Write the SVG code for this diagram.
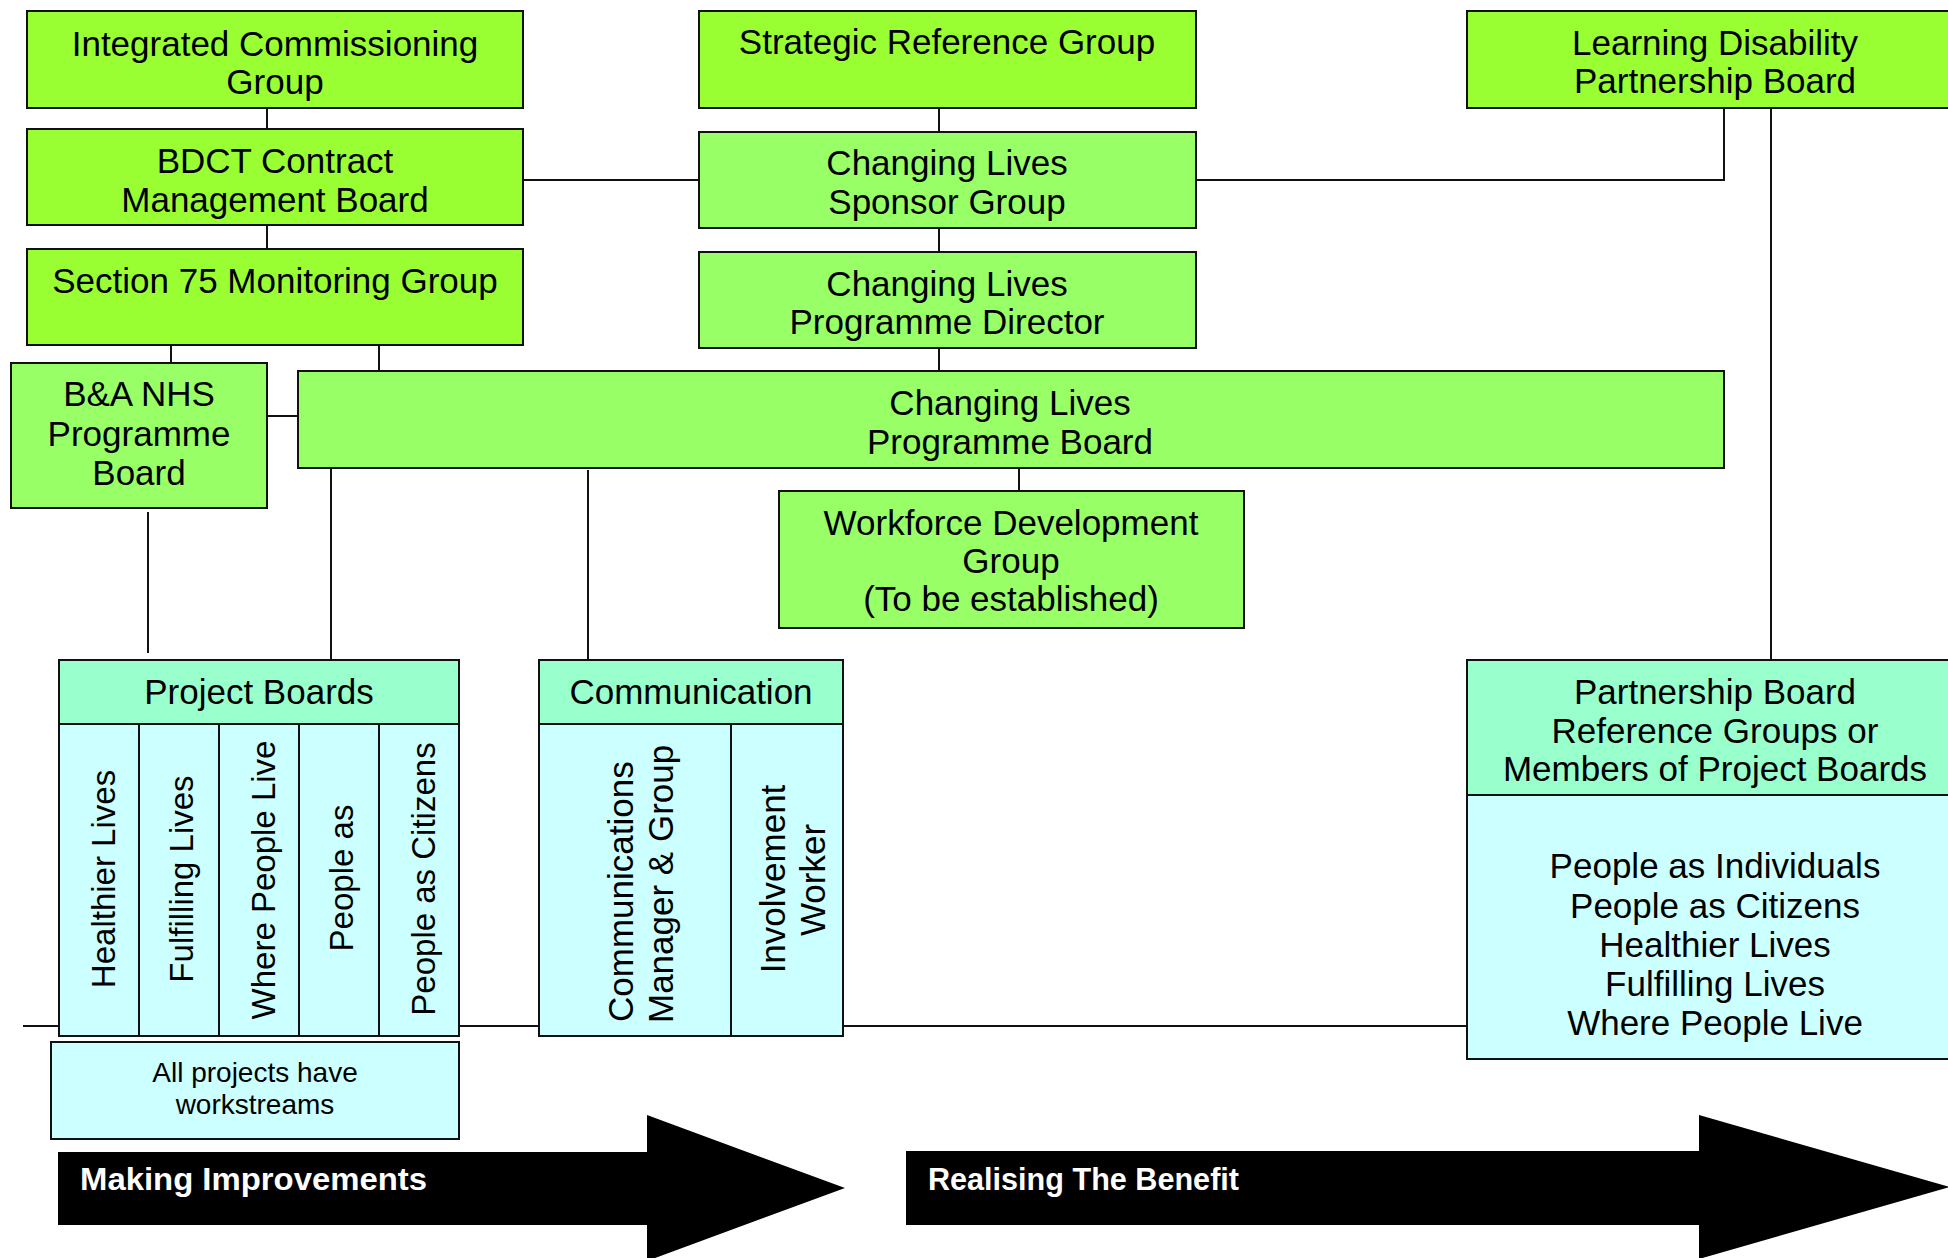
<svg xmlns="http://www.w3.org/2000/svg" width="1948" height="1258" viewBox="0 0 1948 1258">
<style>
  .box { stroke: #111; stroke-width: 2; }
  .g1 { fill: #99FF33; }
  .g2 { fill: #99FF66; }
  .hd { fill: #99FFCC; }
  .bd { fill: #CCFFFF; }
  .ln { stroke: #111; stroke-width: 2; fill: none; }
  text { font-family: "Liberation Sans", Arial, sans-serif; fill: #000; }
  .t { font-size: 35px; text-anchor: middle; }
  .r { font-size: 33px; text-anchor: middle; }
  .rc { font-size: 35px; }
  .s { font-size: 28px; text-anchor: middle; }
  .arrow { fill: #000; }
  .at { font-size: 32px; font-weight: bold; fill: #fff; }
</style>
<rect width="1948" height="1258" fill="#fff"/>
<g id="connectors">
  <line class="ln" x1="267" y1="108" x2="267" y2="129"/>
  <line class="ln" x1="267" y1="225" x2="267" y2="249"/>
  <line class="ln" x1="171" y1="345" x2="171" y2="363"/>
  <line class="ln" x1="379" y1="345" x2="379" y2="371"/>
  <line class="ln" x1="267" y1="416" x2="298" y2="416"/>
  <line class="ln" x1="523" y1="180" x2="699" y2="180"/>
  <line class="ln" x1="939" y1="108" x2="939" y2="132"/>
  <line class="ln" x1="939" y1="228" x2="939" y2="252"/>
  <line class="ln" x1="939" y1="348" x2="939" y2="371"/>
  <polyline class="ln" points="1196,180 1724,180 1724,108"/>
  <line class="ln" x1="1771" y1="108" x2="1771" y2="660"/>
  <line class="ln" x1="1019" y1="468" x2="1019" y2="491"/>
  <line class="ln" x1="148" y1="512" x2="148" y2="653"/>
  <line class="ln" x1="331" y1="468" x2="331" y2="660"/>
  <line class="ln" x1="588" y1="470" x2="588" y2="660"/>
  <line class="ln" x1="23" y1="1026" x2="59" y2="1026"/>
  <line class="ln" x1="459" y1="1026" x2="539" y2="1026"/>
  <line class="ln" x1="843" y1="1026" x2="1467" y2="1026"/>
</g>
<g id="icg">
  <rect class="box g1" x="27" y="11" width="496" height="97"/>
  <text class="t" x="275" y="56">Integrated Commissioning</text>
  <text class="t" x="275" y="94">Group</text>
</g>
<g id="bdct">
  <rect class="box g1" x="27" y="129" width="496" height="96"/>
  <text class="t" x="275" y="173">BDCT Contract</text>
  <text class="t" x="275" y="212">Management Board</text>
</g>
<g id="s75">
  <rect class="box g1" x="27" y="249" width="496" height="96"/>
  <text class="t" x="275" y="293">Section 75 Monitoring Group</text>
</g>
<g id="banhs">
  <rect class="box g2" x="11" y="363" width="256" height="145"/>
  <text class="t" x="139" y="406">B&amp;A NHS</text>
  <text class="t" x="139" y="446">Programme</text>
  <text class="t" x="139" y="485">Board</text>
</g>
<g id="srg">
  <rect class="box g1" x="699" y="11" width="497" height="97"/>
  <text class="t" x="947" y="54">Strategic Reference Group</text>
</g>
<g id="clsg">
  <rect class="box g2" x="699" y="132" width="497" height="96"/>
  <text class="t" x="947" y="175">Changing Lives</text>
  <text class="t" x="947" y="214">Sponsor Group</text>
</g>
<g id="clpd">
  <rect class="box g2" x="699" y="252" width="497" height="96"/>
  <text class="t" x="947" y="296">Changing Lives</text>
  <text class="t" x="947" y="334">Programme Director</text>
</g>
<g id="clpb">
  <rect class="box g2" x="298" y="371" width="1426" height="97"/>
  <text class="t" x="1010" y="415">Changing Lives</text>
  <text class="t" x="1010" y="454">Programme Board</text>
</g>
<g id="wdg">
  <rect class="box g2" x="779" y="491" width="465" height="137"/>
  <text class="t" x="1011" y="535">Workforce Development</text>
  <text class="t" x="1011" y="573">Group</text>
  <text class="t" x="1011" y="611">(To be established)</text>
</g>
<g id="ldpb">
  <rect class="box g1" x="1467" y="11" width="495" height="97"/>
  <text class="t" x="1715" y="55">Learning Disability</text>
  <text class="t" x="1715" y="93">Partnership Board</text>
</g>
<g id="project-boards">
  <rect class="box bd" x="59" y="660" width="400" height="376"/>
  <rect class="box hd" x="59" y="660" width="400" height="64"/>
  <line class="ln" x1="139" y1="724" x2="139" y2="1036"/>
  <line class="ln" x1="219" y1="724" x2="219" y2="1036"/>
  <line class="ln" x1="299" y1="724" x2="299" y2="1036"/>
  <line class="ln" x1="379" y1="724" x2="379" y2="1036"/>
  <text class="t" x="259" y="704">Project Boards</text>
  <text class="r" transform="translate(115,879) rotate(-90)">Healthier Lives</text>
  <text class="r" transform="translate(193,879) rotate(-90)">Fulfilling Lives</text>
  <text class="r" transform="translate(275,880) rotate(-90)">Where People Live</text>
  <text class="r" transform="translate(353,878) rotate(-90)">People as</text>
  <text class="r" transform="translate(435,879) rotate(-90)">People as Citizens</text>
</g>
<g id="workstreams-note">
  <rect class="box bd" x="51" y="1042" width="408" height="97"/>
  <text class="s" x="255" y="1082">All projects have</text>
  <text class="s" x="255" y="1114">workstreams</text>
</g>
<g id="communication">
  <rect class="box bd" x="539" y="660" width="304" height="376"/>
  <rect class="box hd" x="539" y="660" width="304" height="64"/>
  <line class="ln" x1="731" y1="724" x2="731" y2="1036"/>
  <text class="t" x="691" y="704">Communication</text>
  <text class="rc" transform="translate(633,1022) rotate(-90)">Communications</text>
  <text class="rc" transform="translate(673,1023) rotate(-90)">Manager &amp; Group</text>
  <text class="rc" text-anchor="middle" transform="translate(785,879) rotate(-90)">Involvement</text>
  <text class="rc" text-anchor="middle" transform="translate(825,880) rotate(-90)">Worker</text>
</g>
<g id="partnership">
  <rect class="box bd" x="1467" y="660" width="495" height="399"/>
  <rect class="box hd" x="1467" y="660" width="495" height="135"/>
  <text class="t" x="1715" y="704">Partnership Board</text>
  <text class="t" x="1715" y="743">Reference Groups or</text>
  <text class="t" x="1715" y="781">Members of Project Boards</text>
  <text class="t" x="1715" y="878">People as Individuals</text>
  <text class="t" x="1715" y="918">People as Citizens</text>
  <text class="t" x="1715" y="957">Healthier Lives</text>
  <text class="t" x="1715" y="996">Fulfilling Lives</text>
  <text class="t" x="1715" y="1035">Where People Live</text>
</g>
<g id="arrow-making">
  <polygon class="arrow" points="58,1152 647,1152 647,1115 845,1188 647,1261 647,1225 58,1225"/>
  <text class="at" x="80" y="1190" textLength="347" lengthAdjust="spacingAndGlyphs">Making Improvements</text>
</g>
<g id="arrow-realising">
  <polygon class="arrow" points="906,1151 1699,1151 1699,1115 1950,1187 1699,1259 1699,1225 906,1225"/>
  <text class="at" x="928" y="1190" textLength="311" lengthAdjust="spacingAndGlyphs">Realising The Benefit</text>
</g>
</svg>
